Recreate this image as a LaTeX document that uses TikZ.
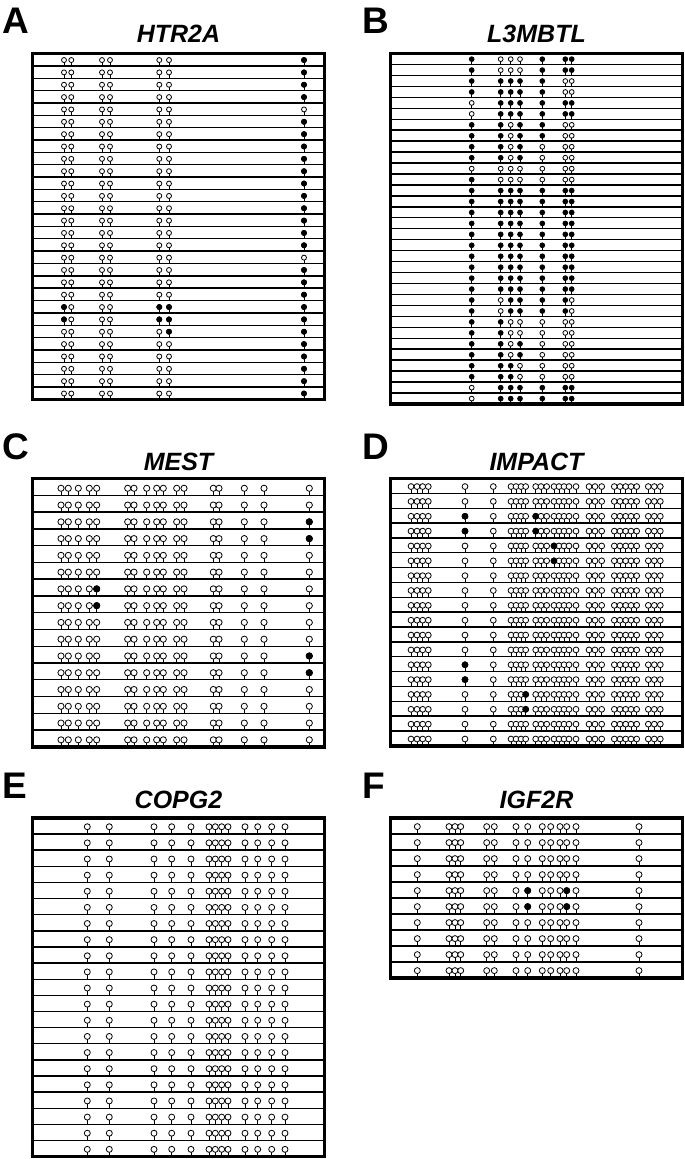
\documentclass[tikz,border=0pt]{standalone}
\usepackage{fontspec}
\setmainfont{Liberation Sans}
\tikzset{
 rowline/.style={line width=1.4pt},
 frame/.style={line width=3.4pt},
 stem/.style={line width=0.9pt},
 bulb/.style={draw=black, line width=0.8pt},
 lbl/.style={font=\fontsize{37}{37}\selectfont\bfseries, anchor=base west, inner sep=0pt},
 ttl/.style={font=\fontsize{25}{25}\selectfont\bfseries\itshape, anchor=base, inner sep=0pt},
}
% x, yline, radius, centre height above line, fill colour
\newcommand\lol[5]{%
 \draw[stem] (#1,{#2}) -- (#1,{#2-#4});
 \draw[bulb, fill=#5] (#1,{#2-#4}) circle[radius=#3pt];
}
% x0, y0, x1, row height, rows
\newcommand\rowlines[5]{%
 \pgfmathtruncatemacro\nm{#5-1}
 \foreach \k in {1,...,\nm} {\draw[rowline] (#1,{#2+\k*#4}) -- (#3,{#2+\k*#4});}
}
\newcommand\frm[5]{\draw[frame] (#1,#2) rectangle (#3,{#2+#5*#4});}
% x list, y0, h, rows, r, d
\newcommand\opens[6]{%
 \foreach \ri in {1,...,#4} {\foreach \xx in {#1} {\lol{\xx}{#2+\ri*#3}{#5}{#6}{white}}}
}
% x/row list, y0, h, r, d
\newcommand\fulls[5]{%
 \foreach \xx/\ri in {#1} {\lol{\xx}{#2+\ri*#3}{#4}{#5}{black}}
}
\begin{document}
\begin{tikzpicture}[x=1pt,y=-1pt]
\useasboundingbox (0,0) rectangle (685,1159);
\fill[white] (0,0) rectangle (685,1159);

% ---------- labels and titles
\node[lbl] (labA) at (2,33) {A};
\node[ttl] (titA) at (178.5,42) {HTR2A};
\node[lbl] (labB) at (362,33) {B};
\node[ttl] (titB) at (536.5,42) {L3MBTL};
\node[lbl] (labC) at (2,459) {C};
\node[ttl] (titC) at (178.5,470) {MEST};
\node[lbl] (labD) at (362,459) {D};
\node[ttl] (titD) at (536.5,470) {IMPACT};
\node[lbl] (labE) at (2,798) {E};
\node[ttl] (titE) at (178.5,808) {COPG2};
\node[lbl] (labF) at (362,798) {F};
\node[ttl] (titF) at (536.5,808) {IGF2R};

% ---------- A  HTR2A
\rowlines{32.5}{53.5}{324.5}{12.35}{28}
\opens{64,71.3,102,110,159.3,169,304}{53.5}{12.35}{28}{2.5}{5.8}
\foreach \ri in {1,...,4,6,7,...,16,18,19,...,28} {\lol{304}{53.5+\ri*12.35}{2.5}{5.8}{black}}
\fulls{64/21,64/22,159.3/21,159.3/22,169/21,169/22,169/23}{53.5}{12.35}{2.5}{5.8}
\frm{32.5}{53.5}{324.5}{12.35}{28}

% ---------- B  L3MBTL
\rowlines{390.5}{53.5}{682.5}{10.95}{32}
\def\arrB{{471.7,500.7,510.7,520,542.3,565.3,571.7}}
\foreach \pat [count=\ri] in {
 {1,0,0,0,1,1,1},{1,0,0,0,1,1,1},{1,1,1,1,1,0,0},{1,1,1,1,1,0,0},
 {0,1,1,1,1,1,1},{0,1,1,1,1,1,1},{1,1,0,1,1,0,0},{1,1,0,1,1,0,0},
 {1,1,0,1,0,0,0},{1,1,0,1,0,0,0},{0,0,0,0,0,0,0},{1,0,0,0,0,0,0},
 {1,1,1,1,1,1,1},{1,1,1,1,1,1,1},{1,1,1,1,1,1,1},{1,1,1,1,1,1,1},
 {1,1,1,1,1,1,1},{1,1,1,1,1,1,1},{1,1,1,1,1,1,1},{1,1,1,1,1,1,1},
 {1,1,1,1,1,1,1},{1,1,1,1,1,1,1},{1,0,1,1,1,1,0},{1,0,1,1,1,1,0},
 {1,1,0,0,0,0,0},{1,1,0,0,0,0,0},{1,1,0,1,0,0,0},{1,1,0,1,0,0,0},
 {1,1,1,0,0,0,0},{1,1,1,0,0,0,0},{0,1,1,1,1,1,1},{0,1,1,1,1,1,1}} {
 \foreach \f [count=\j from 0] in \pat {
  \pgfmathsetmacro\xx{\arrB[\j]}
  \ifnum\f=1 \def\fc{black}\else\def\fc{white}\fi
  \lol{\xx}{53.5+\ri*10.95}{2.4}{5.3}{\fc}
 }
}
\frm{390.5}{53.5}{682.5}{10.95}{32}

% ---------- C  MEST
\rowlines{32.5}{478.5}{324.5}{16.77}{16}
\opens{61,68.3,78.3,89.3,96.7,127.7,134,146.7,156.7,163.3,176.7,184,213.3,219,244.3,264,309.3}{478.5}{16.77}{16}{3.1}{7}
\fulls{96.7/7,96.7/8,309.3/3,309.3/4,309.3/11,309.3/12}{478.5}{16.77}{3.1}{7}
\frm{32.5}{478.5}{324.5}{16.77}{16}

% ---------- D  IMPACT
\rowlines{390.5}{478.5}{682.5}{14.85}{18}
\opens{411,417,422.7,428.3,465,493.3,511,516,521,525.7,535.7,541,546.7,554,559,564,569,576,589,595,601.7,614.3,620,625.7,631,636.7,648.3,654.3,660.3}{478.5}{14.85}{18}{2.9}{6.8}
\fulls{465/3,465/4,465/13,465/14,535.7/3,535.7/4,554/5,554/6,525.7/15,525.7/16}{478.5}{14.85}{2.9}{6.8}
\frm{390.5}{478.5}{682.5}{14.85}{18}

% ---------- E  COPG2
\rowlines{32.5}{817.9}{324.5}{16.13}{21}
\opens{87.3,109.3,154,171.7,191,209,215.3,221.7,228,245,257.7,271.7,285}{817.9}{16.13}{21}{3}{7.3}
\frm{32.5}{817.9}{324.5}{16.13}{21}

% ---------- F  IGF2R
\rowlines{390.5}{817.9}{682.5}{16}{10}
\opens{417.3,449,455,460.7,486.7,494.3,516,527.7,542.3,550.7,560,566.7,576,639}{817.9}{16}{10}{3}{7.3}
\fulls{527.7/5,527.7/6,566.7/5,566.7/6}{817.9}{16}{3}{7.3}
\frm{390.5}{817.9}{682.5}{16}{10}
\end{tikzpicture}
\end{document}
